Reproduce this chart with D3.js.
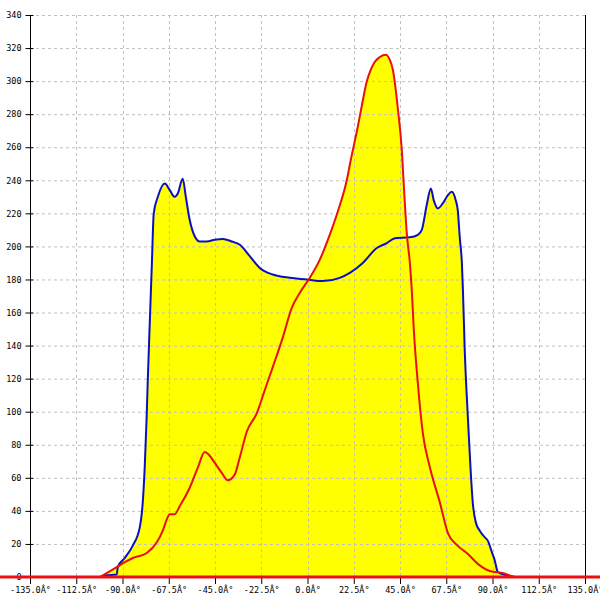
<!DOCTYPE html>
<html>
<head>
<meta charset="utf-8">
<script src="https://cdn.jsdelivr.net/npm/d3@7"></script>
<style>
  html, body { margin: 0; padding: 0; background: #fff; }
  svg { display: block; }
  text { font-family: "DejaVu Sans Mono", monospace; font-size: 8.5px; fill: #000; }
</style>
</head>
<body>
<svg id="chart" width="600" height="600"></svg>
<script>
// ---- Data ----
const xTicks = [-135, -112.5, -90, -67.5, -45, -22.5, 0, 22.5, 45, 67.5, 90, 112.5, 135];
const xTickLabels = ["-135.0Â°", "-112.5Â°", "-90.0Â°", "-67.5Â°", "-45.0Â°", "-22.5Â°", "0.0Â°",
                     "22.5Â°", "45.0Â°", "67.5Â°", "90.0Â°", "112.5Â°", "135.0Â°"];
const yTicks = [0, 20, 40, 60, 80, 100, 120, 140, 160, 180, 200, 220, 240, 260, 280, 300, 320, 340];

const blueAngles = [-180, -101.0, -98.1, -92.8, -92.3, -88.9, -85.0, -81.6, -80.1, -79.2, -78.3, -77.7,
  -76.7, -75.7, -74.8, -72.8, -69.4, -67.0, -64.6, -63.1, -60.7, -59.2, -57.3, -54.8, -52.4, -49.0,
  -45.1, -41.2, -36.8, -32.9, -28.0, -23.2, -16.9, -8.6, -0.3, 7.4, 15.7, 20.6, 26.9, 33.7, 38.6,
  42.5, 49.8, 53.7, 55.6, 58.0, 60.0, 61.4, 63.4, 65.8, 68.3, 70.2, 72.1, 73.1, 74.1, 75.1, 75.6,
  76.5, 78.0, 79.0, 80.4, 81.9, 83.8, 86.3, 87.7, 89.7, 91.1, 92.6, 96.9, 100.8, 180];
const blueValues = [0, 0, 1, 1.5, 6, 11.5, 19, 30, 46, 66, 95, 119,
  155, 190, 220, 230, 238, 234, 230, 232, 241, 230, 216, 206, 203, 203,
  204, 204.5, 203, 201, 194, 187, 183, 181, 180, 179, 181, 184, 190, 199, 202,
  205, 205.5, 207, 210, 225, 235, 228, 223, 226, 231, 233, 228, 222, 205, 190, 174,
  137, 97, 73, 45, 33, 28, 24, 22, 15, 10, 3, 1, 0, 0];

const redAngles = [-180, -101.0, -99.6, -92.8, -88.9, -85.0, -78.2, -73.3, -70.4, -68.4, -67.0, -64.6,
  -62.1, -57.3, -53.4, -50.0, -48.0, -45.1, -41.7, -38.8, -35.4, -32.9, -29.5, -24.7, -20.8, -16.9,
  -12.0, -7.6, -3.7, 1.1, 6.0, 9.9, 14.7, 19.1, 21.0, 24.4, 26.4, 28.8, 30.8, 32.7, 35.2, 38.1, 40.0,
  41.5, 42.5, 43.9, 45.9, 46.9, 48.3, 49.8, 50.8, 51.7, 53.7, 56.1, 59.5, 64.4, 68.3, 72.6, 77.5,
  83.8, 88.7, 95.0, 101.8, 180];
const redValues = [0, 0, 1, 6, 9, 11.5, 14.5, 21, 28, 35, 38, 38,
  43, 54, 66, 75.6, 74, 69, 63, 58.5, 62, 72.6, 88, 99, 113, 127,
  145, 163, 172, 181, 192, 204, 221, 240, 252, 272, 285, 299.6, 307, 311.6, 314.6, 316, 313,
  307, 299, 284, 258, 236, 208, 190, 172, 150, 117, 87, 66.5, 45, 26.6, 19.4, 14.5,
  7, 3.6, 2.4, 0, 0];

// ---- Chart ----
const svg = d3.select("#chart");
const x = d3.scaleLinear().domain([-135, 135]).range([30, 585]);
const y = d3.scaleLinear().domain([0, 340]).range([577, 15]);

const blue = blueAngles.map((a, i) => [a, blueValues[i]]);
const red = redAngles.map((a, i) => [a, redValues[i]]);

const curve = d3.curveMonotoneX;
const area = d3.area().x(d => x(d[0])).y0(y(0)).y1(d => y(d[1])).curve(curve);
const line = d3.line().x(d => x(d[0])).y(d => y(d[1])).curve(curve);

// Yellow fill under both curves
svg.append("path").attr("d", area(blue)).attr("fill", "#ffff00");
svg.append("path").attr("d", area(red)).attr("fill", "#ffff00");

// Grid
const grid = svg.append("g");
grid.selectAll("line.h").data(yTicks.filter(v => v > 0)).join("line")
  .attr("x1", x(-135)).attr("x2", x(135))
  .attr("y1", d => y(d) + 0.5).attr("y2", d => y(d) + 0.5)
  .attr("stroke", "#c0c0c0").attr("stroke-width", 1).attr("stroke-dasharray", "3,3");
grid.selectAll("line.v").data(xTicks.slice(1, -1)).join("line")
  .attr("x1", d => Math.round(x(d)) + 0.5).attr("x2", d => Math.round(x(d)) + 0.5)
  .attr("y1", y(340)).attr("y2", y(0))
  .attr("stroke", "#c0c0c0").attr("stroke-width", 1).attr("stroke-dasharray", "3,3");

// Right border line
svg.append("line")
  .attr("x1", Math.round(x(135)) + 0.5).attr("x2", Math.round(x(135)) + 0.5)
  .attr("y1", y(340)).attr("y2", y(0) + 6)
  .attr("stroke", "#000").attr("stroke-width", 1);

// Axes
const yAxis = d3.axisLeft(y).tickValues(yTicks).tickFormat(d3.format("d"))
  .tickSizeInner(5).tickSizeOuter(0).tickPadding(4);
const gy = svg.append("g").attr("transform", "translate(30.5,0)").call(yAxis);
gy.select(".domain").attr("d", `M0,${y(340)}V${y(0) + 7}`).attr("stroke", "#000");
gy.selectAll(".tick line").attr("x1", 3).attr("stroke", "#000");
gy.selectAll(".tick text").style("font-family", "DejaVu Sans Mono, monospace").style("font-size", "8.5px");

const xAxis = d3.axisBottom(x).tickValues(xTicks).tickFormat((d, i) => xTickLabels[i])
  .tickSizeInner(7).tickSizeOuter(0).tickPadding(3);
const gx = svg.append("g").attr("transform", `translate(0,${y(0)})`).call(xAxis);
gx.select(".domain").attr("stroke", "#000");
gx.selectAll(".tick text").style("font-family", "DejaVu Sans Mono, monospace").style("font-size", "8.5px");

// Lines
svg.append("path").attr("d", line(blue)).attr("fill", "none")
  .attr("stroke", "#0a10c0").attr("stroke-width", 2).attr("stroke-linejoin", "round");
svg.append("path").attr("d", line(red)).attr("fill", "none")
  .attr("stroke", "#e81010").attr("stroke-width", 2).attr("stroke-linejoin", "round");
// zero baseline segment of red series spans whole width
svg.append("path").attr("d", line([[-180, 0], [180, 0]])).attr("fill", "none")
  .attr("stroke", "#e81010").attr("stroke-width", 3);
</script>
</body>
</html>
